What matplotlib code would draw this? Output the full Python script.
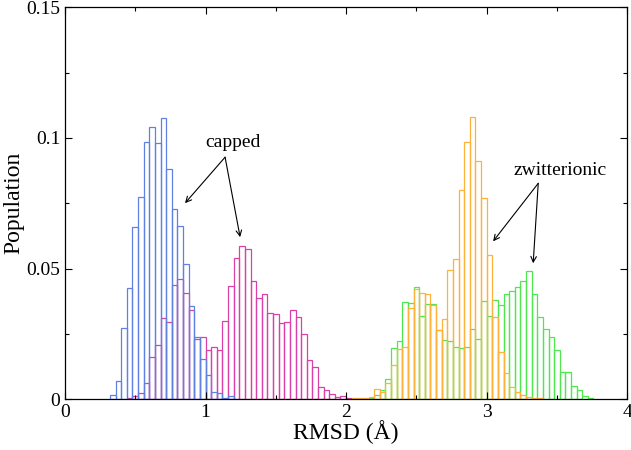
import numpy as np
import matplotlib
matplotlib.use("Agg")
import matplotlib.pyplot as plt
from matplotlib.ticker import MultipleLocator, FuncFormatter

plt.rcParams['font.family'] = ['Liberation Serif', 'DejaVu Serif']

BIN = 0.04

# capped peptide, first set (blue)
blue_start = 0.32
blue = [0.0015, 0.0069, 0.0272, 0.0425, 0.066, 0.0775, 0.0983, 0.1043, 0.098,
        0.1075, 0.0881, 0.0728, 0.0662, 0.0517, 0.0358, 0.0236, 0.0152, 0.0092,
        0.0028, 0.0024, 0.0006, 0.0013]

# capped peptide, second set (magenta)
magenta_start = 0.44
magenta = [0.0005, 0.0011, 0.0023, 0.006, 0.0162, 0.0207, 0.031, 0.0294, 0.0438,
           0.046, 0.0406, 0.034, 0.0232, 0.0236, 0.0188, 0.020, 0.019, 0.030,
           0.0432, 0.054, 0.0585, 0.0576, 0.0453, 0.0389, 0.0402, 0.0328, 0.0324,
           0.0292, 0.0296, 0.0343, 0.0315, 0.0251, 0.0149, 0.0124, 0.0047, 0.0034,
           0.0019, 0.0009, 0.0011, 0.0003]

# zwitterionic, first set (orange)
orange_start = 2.04
orange = [0.0003, 0.0003, 0.0004, 0.001, 0.004, 0.0028, 0.006, 0.0129, 0.0193,
          0.020, 0.0347, 0.0423, 0.0405, 0.0402, 0.0361, 0.0265, 0.0305, 0.0496,
          0.0536, 0.0802, 0.0984, 0.108, 0.0912, 0.0768, 0.055, 0.0315, 0.0179,
          0.0101, 0.0047, 0.0028, 0.0015, 0.0008, 0.0003, 0.0003]

# zwitterionic, second set (green)
green_start = 2.16
green = [0.0003, 0.0017, 0.0036, 0.0077, 0.0194, 0.0222, 0.0372, 0.0368, 0.043,
         0.0318, 0.0366, 0.0363, 0.0265, 0.0228, 0.0223, 0.020, 0.0194, 0.020,
         0.0269, 0.0232, 0.0376, 0.0319, 0.0381, 0.0362, 0.0402, 0.0414, 0.043,
         0.0451, 0.049, 0.0404, 0.0315, 0.027, 0.0236, 0.0187, 0.0105, 0.0102,
         0.005, 0.0034, 0.0011, 0.0003]

series = [
    (magenta_start, magenta, '#d940a8'),
    (blue_start, blue, '#5f82e2'),
    (green_start, green, '#4ee84e'),
    (orange_start, orange, '#ffb23a'),
]

fig = plt.figure(figsize=(6.31, 4.5), dpi=100)
ax = fig.add_axes([0.103, 0.113, 0.891, 0.871])

for start, vals, col in series:
    left = start + BIN * np.arange(len(vals))
    ax.bar(left, vals, width=BIN, align='edge', fill=False,
           edgecolor=col, linewidth=0.9)

ax.set_xlim(0, 4)
ax.set_ylim(0, 0.15)
ax.xaxis.set_major_locator(MultipleLocator(1))
ax.xaxis.set_minor_locator(MultipleLocator(0.5))
ax.yaxis.set_major_locator(MultipleLocator(0.05))
ax.yaxis.set_minor_locator(MultipleLocator(0.025))
ax.yaxis.set_major_formatter(FuncFormatter(lambda v, p: f"{v:g}"))
ax.tick_params(which='both', direction='in', top=True, right=True, labelsize=14)
ax.tick_params(which='major', length=5, width=0.8)
ax.tick_params(which='minor', length=3, width=0.8)
for s in ax.spines.values():
    s.set_linewidth(0.9)

ax.set_xlabel("RMSD (Å)", fontsize=17, labelpad=-1)
ax.set_ylabel("Population", fontsize=17, labelpad=1.5)

arrow = dict(arrowstyle='->', color='black', lw=0.8, shrinkA=0, shrinkB=0)
ax.text(1.196, 0.0983, "capped", fontsize=14, ha='center', va='center')
ax.annotate("", xy=(0.854, 0.075), xytext=(1.139, 0.0926), arrowprops=arrow)
ax.annotate("", xy=(1.246, 0.062), xytext=(1.139, 0.0926), arrowprops=arrow)

ax.text(3.523, 0.0876, "zwitterionic", fontsize=14, ha='center', va='center')
ax.annotate("", xy=(3.046, 0.0604), xytext=(3.367, 0.0826), arrowprops=arrow)
ax.annotate("", xy=(3.331, 0.052), xytext=(3.367, 0.0826), arrowprops=arrow)

fig.savefig("out.png", dpi=100)
